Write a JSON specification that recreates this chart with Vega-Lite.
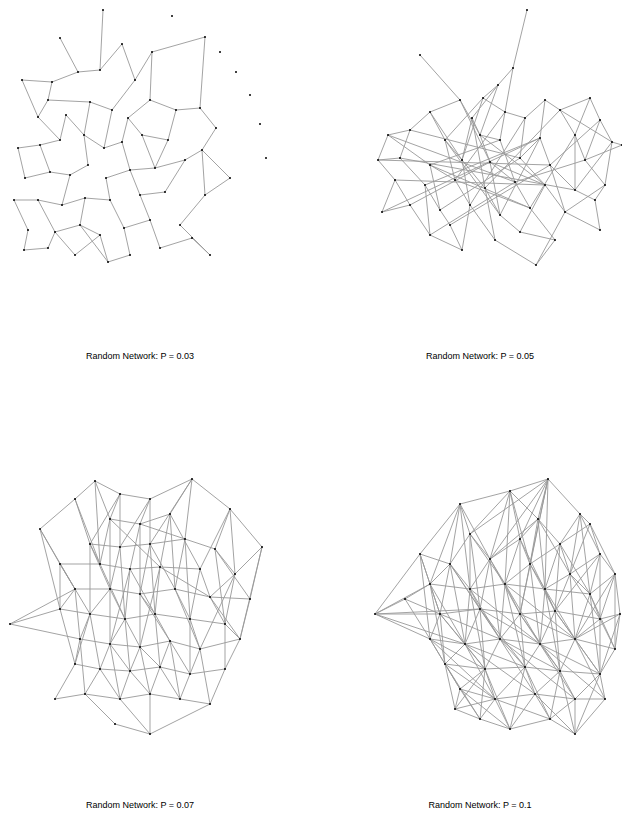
{
  "$schema": "https://vega.github.io/schema/vega-lite/v6.json",
  "padding": 0,
  "columns": 2,
  "spacing": {"column": 60, "row": 88},
  "config": {
    "view": {"stroke": null},
    "title": {"orient": "bottom", "fontSize": 9, "fontWeight": "normal", "font": "Liberation Sans", "offset": 22, "color": "#000"}
  },
  "datasets": {
    "nodes": [
      {"g":1,"id":100,"x":103,"y":10},{"g":1,"id":101,"x":172,"y":16},{"g":1,"id":102,"x":60,"y":38},{"g":1,"id":103,"x":122,"y":44},{"g":1,"id":104,"x":205,"y":37},{"g":1,"id":105,"x":22,"y":80},{"g":1,"id":106,"x":52,"y":82},{"g":1,"id":107,"x":78,"y":72},{"g":1,"id":108,"x":100,"y":70},{"g":1,"id":109,"x":135,"y":80},{"g":1,"id":110,"x":152,"y":52},{"g":1,"id":111,"x":220,"y":52},{"g":1,"id":112,"x":236,"y":72},{"g":1,"id":113,"x":250,"y":95},{"g":1,"id":114,"x":48,"y":100},{"g":1,"id":115,"x":38,"y":117},{"g":1,"id":116,"x":66,"y":115},{"g":1,"id":117,"x":90,"y":102},{"g":1,"id":118,"x":112,"y":110},{"g":1,"id":119,"x":128,"y":118},{"g":1,"id":120,"x":150,"y":100},{"g":1,"id":121,"x":176,"y":110},{"g":1,"id":122,"x":200,"y":108},{"g":1,"id":123,"x":260,"y":124},{"g":1,"id":124,"x":18,"y":148},{"g":1,"id":125,"x":40,"y":145},{"g":1,"id":126,"x":60,"y":140},{"g":1,"id":127,"x":84,"y":135},{"g":1,"id":128,"x":104,"y":148},{"g":1,"id":129,"x":122,"y":142},{"g":1,"id":130,"x":142,"y":135},{"g":1,"id":131,"x":168,"y":140},{"g":1,"id":132,"x":216,"y":128},{"g":1,"id":133,"x":202,"y":150},{"g":1,"id":134,"x":266,"y":158},{"g":1,"id":135,"x":25,"y":178},{"g":1,"id":136,"x":50,"y":172},{"g":1,"id":137,"x":70,"y":175},{"g":1,"id":138,"x":88,"y":165},{"g":1,"id":139,"x":106,"y":178},{"g":1,"id":140,"x":130,"y":170},{"g":1,"id":141,"x":155,"y":168},{"g":1,"id":142,"x":185,"y":160},{"g":1,"id":143,"x":230,"y":178},{"g":1,"id":144,"x":14,"y":200},{"g":1,"id":145,"x":38,"y":200},{"g":1,"id":146,"x":62,"y":205},{"g":1,"id":147,"x":85,"y":198},{"g":1,"id":148,"x":110,"y":200},{"g":1,"id":149,"x":140,"y":195},{"g":1,"id":150,"x":165,"y":192},{"g":1,"id":151,"x":205,"y":195},{"g":1,"id":152,"x":28,"y":230},{"g":1,"id":153,"x":55,"y":232},{"g":1,"id":154,"x":80,"y":225},{"g":1,"id":155,"x":100,"y":235},{"g":1,"id":156,"x":124,"y":228},{"g":1,"id":157,"x":150,"y":220},{"g":1,"id":158,"x":180,"y":225},{"g":1,"id":159,"x":24,"y":250},{"g":1,"id":160,"x":48,"y":248},{"g":1,"id":161,"x":75,"y":255},{"g":1,"id":162,"x":108,"y":262},{"g":1,"id":163,"x":130,"y":255},{"g":1,"id":164,"x":160,"y":248},{"g":1,"id":165,"x":210,"y":255},{"g":1,"id":166,"x":192,"y":238},
      {"g":2,"id":200,"x":527,"y":10},{"g":2,"id":201,"x":420,"y":55},{"g":2,"id":202,"x":513,"y":68},{"g":2,"id":203,"x":498,"y":85},{"g":2,"id":204,"x":460,"y":100},{"g":2,"id":205,"x":483,"y":98},{"g":2,"id":206,"x":545,"y":100},{"g":2,"id":207,"x":590,"y":98},{"g":2,"id":208,"x":430,"y":112},{"g":2,"id":209,"x":472,"y":118},{"g":2,"id":210,"x":505,"y":112},{"g":2,"id":211,"x":525,"y":118},{"g":2,"id":212,"x":560,"y":110},{"g":2,"id":213,"x":600,"y":120},{"g":2,"id":214,"x":388,"y":135},{"g":2,"id":215,"x":410,"y":130},{"g":2,"id":216,"x":445,"y":140},{"g":2,"id":217,"x":480,"y":135},{"g":2,"id":218,"x":500,"y":140},{"g":2,"id":219,"x":540,"y":138},{"g":2,"id":220,"x":575,"y":135},{"g":2,"id":221,"x":612,"y":142},{"g":2,"id":222,"x":378,"y":160},{"g":2,"id":223,"x":400,"y":158},{"g":2,"id":224,"x":430,"y":165},{"g":2,"id":225,"x":462,"y":160},{"g":2,"id":226,"x":490,"y":162},{"g":2,"id":227,"x":520,"y":158},{"g":2,"id":228,"x":550,"y":165},{"g":2,"id":229,"x":585,"y":160},{"g":2,"id":230,"x":395,"y":180},{"g":2,"id":231,"x":425,"y":185},{"g":2,"id":232,"x":455,"y":180},{"g":2,"id":233,"x":485,"y":188},{"g":2,"id":234,"x":515,"y":182},{"g":2,"id":235,"x":545,"y":185},{"g":2,"id":236,"x":575,"y":190},{"g":2,"id":237,"x":605,"y":185},{"g":2,"id":238,"x":382,"y":212},{"g":2,"id":239,"x":410,"y":205},{"g":2,"id":240,"x":440,"y":210},{"g":2,"id":241,"x":470,"y":205},{"g":2,"id":242,"x":500,"y":215},{"g":2,"id":243,"x":530,"y":208},{"g":2,"id":244,"x":565,"y":212},{"g":2,"id":245,"x":595,"y":200},{"g":2,"id":246,"x":430,"y":235},{"g":2,"id":247,"x":462,"y":250},{"g":2,"id":248,"x":495,"y":240},{"g":2,"id":249,"x":520,"y":232},{"g":2,"id":250,"x":536,"y":265},{"g":2,"id":251,"x":555,"y":240},{"g":2,"id":252,"x":600,"y":230},{"g":2,"id":253,"x":622,"y":145},{"g":2,"id":254,"x":450,"y":225},
      {"g":3,"id":300,"x":95,"y":482},{"g":3,"id":301,"x":192,"y":480},{"g":3,"id":302,"x":150,"y":500},{"g":3,"id":303,"x":120,"y":495},{"g":3,"id":304,"x":75,"y":500},{"g":3,"id":305,"x":40,"y":530},{"g":3,"id":306,"x":110,"y":520},{"g":3,"id":307,"x":140,"y":525},{"g":3,"id":308,"x":170,"y":515},{"g":3,"id":309,"x":230,"y":510},{"g":3,"id":310,"x":90,"y":545},{"g":3,"id":311,"x":120,"y":548},{"g":3,"id":312,"x":150,"y":545},{"g":3,"id":313,"x":185,"y":540},{"g":3,"id":314,"x":215,"y":550},{"g":3,"id":315,"x":262,"y":548},{"g":3,"id":316,"x":60,"y":565},{"g":3,"id":317,"x":100,"y":565},{"g":3,"id":318,"x":130,"y":570},{"g":3,"id":319,"x":160,"y":568},{"g":3,"id":320,"x":200,"y":570},{"g":3,"id":321,"x":235,"y":575},{"g":3,"id":322,"x":75,"y":590},{"g":3,"id":323,"x":110,"y":590},{"g":3,"id":324,"x":140,"y":595},{"g":3,"id":325,"x":175,"y":590},{"g":3,"id":326,"x":210,"y":598},{"g":3,"id":327,"x":250,"y":600},{"g":3,"id":328,"x":10,"y":625},{"g":3,"id":329,"x":60,"y":610},{"g":3,"id":330,"x":90,"y":615},{"g":3,"id":331,"x":125,"y":620},{"g":3,"id":332,"x":155,"y":615},{"g":3,"id":333,"x":190,"y":620},{"g":3,"id":334,"x":225,"y":625},{"g":3,"id":335,"x":80,"y":640},{"g":3,"id":336,"x":110,"y":645},{"g":3,"id":337,"x":140,"y":648},{"g":3,"id":338,"x":170,"y":642},{"g":3,"id":339,"x":200,"y":650},{"g":3,"id":340,"x":240,"y":640},{"g":3,"id":341,"x":75,"y":665},{"g":3,"id":342,"x":100,"y":670},{"g":3,"id":343,"x":130,"y":672},{"g":3,"id":344,"x":160,"y":668},{"g":3,"id":345,"x":190,"y":675},{"g":3,"id":346,"x":225,"y":670},{"g":3,"id":347,"x":85,"y":695},{"g":3,"id":348,"x":120,"y":700},{"g":3,"id":349,"x":150,"y":695},{"g":3,"id":350,"x":180,"y":700},{"g":3,"id":351,"x":210,"y":705},{"g":3,"id":352,"x":115,"y":725},{"g":3,"id":353,"x":150,"y":735},{"g":3,"id":354,"x":55,"y":700},
      {"g":4,"id":400,"x":548,"y":480},{"g":4,"id":401,"x":510,"y":492},{"g":4,"id":402,"x":460,"y":505},{"g":4,"id":403,"x":580,"y":515},{"g":4,"id":404,"x":538,"y":520},{"g":4,"id":405,"x":420,"y":555},{"g":4,"id":406,"x":470,"y":535},{"g":4,"id":407,"x":520,"y":540},{"g":4,"id":408,"x":560,"y":545},{"g":4,"id":409,"x":600,"y":555},{"g":4,"id":410,"x":450,"y":565},{"g":4,"id":411,"x":490,"y":560},{"g":4,"id":412,"x":530,"y":565},{"g":4,"id":413,"x":570,"y":575},{"g":4,"id":414,"x":615,"y":575},{"g":4,"id":415,"x":375,"y":615},{"g":4,"id":416,"x":430,"y":585},{"g":4,"id":417,"x":470,"y":590},{"g":4,"id":418,"x":505,"y":585},{"g":4,"id":419,"x":545,"y":590},{"g":4,"id":420,"x":590,"y":595},{"g":4,"id":421,"x":620,"y":615},{"g":4,"id":422,"x":440,"y":615},{"g":4,"id":423,"x":480,"y":610},{"g":4,"id":424,"x":520,"y":615},{"g":4,"id":425,"x":555,"y":612},{"g":4,"id":426,"x":600,"y":620},{"g":4,"id":427,"x":430,"y":640},{"g":4,"id":428,"x":465,"y":645},{"g":4,"id":429,"x":500,"y":640},{"g":4,"id":430,"x":540,"y":645},{"g":4,"id":431,"x":575,"y":640},{"g":4,"id":432,"x":615,"y":650},{"g":4,"id":433,"x":445,"y":665},{"g":4,"id":434,"x":485,"y":670},{"g":4,"id":435,"x":525,"y":668},{"g":4,"id":436,"x":560,"y":672},{"g":4,"id":437,"x":600,"y":675},{"g":4,"id":438,"x":460,"y":690},{"g":4,"id":439,"x":495,"y":700},{"g":4,"id":440,"x":535,"y":695},{"g":4,"id":441,"x":575,"y":700},{"g":4,"id":442,"x":605,"y":700},{"g":4,"id":443,"x":480,"y":720},{"g":4,"id":444,"x":510,"y":730},{"g":4,"id":445,"x":550,"y":720},{"g":4,"id":446,"x":575,"y":735},{"g":4,"id":447,"x":455,"y":710},{"g":4,"id":448,"x":590,"y":525},{"g":4,"id":449,"x":405,"y":600}
    ],
    "edges": [
      {"g":1,"a":0,"b":8},{"g":1,"a":8,"b":7},{"g":1,"a":7,"b":6},{"g":1,"a":3,"b":9},{"g":1,"a":3,"b":8},{"g":1,"a":9,"b":10},{"g":1,"a":10,"b":20},{"g":1,"a":9,"b":18},{"g":1,"a":18,"b":17},{"g":1,"a":17,"b":14},{"g":1,"a":14,"b":15},{"g":1,"a":15,"b":5},{"g":1,"a":5,"b":6},{"g":1,"a":16,"b":26},{"g":1,"a":26,"b":25},{"g":1,"a":25,"b":24},{"g":1,"a":24,"b":35},{"g":1,"a":35,"b":36},{"g":1,"a":36,"b":37},{"g":1,"a":37,"b":38},{"g":1,"a":38,"b":27},{"g":1,"a":27,"b":28},{"g":1,"a":28,"b":29},{"g":1,"a":29,"b":19},{"g":1,"a":19,"b":20},{"g":1,"a":20,"b":21},{"g":1,"a":21,"b":22},{"g":1,"a":22,"b":32},{"g":1,"a":32,"b":33},{"g":1,"a":33,"b":42},{"g":1,"a":42,"b":41},{"g":1,"a":41,"b":40},{"g":1,"a":40,"b":39},{"g":1,"a":39,"b":48},{"g":1,"a":48,"b":47},{"g":1,"a":47,"b":46},{"g":1,"a":46,"b":45},{"g":1,"a":45,"b":44},{"g":1,"a":44,"b":52},{"g":1,"a":52,"b":59},{"g":1,"a":59,"b":60},{"g":1,"a":60,"b":53},{"g":1,"a":53,"b":54},{"g":1,"a":54,"b":55},{"g":1,"a":55,"b":62},{"g":1,"a":62,"b":63},{"g":1,"a":63,"b":56},{"g":1,"a":56,"b":57},{"g":1,"a":57,"b":64},{"g":1,"a":64,"b":66},{"g":1,"a":66,"b":65},{"g":1,"a":65,"b":58},{"g":1,"a":58,"b":51},{"g":1,"a":51,"b":43},{"g":1,"a":43,"b":33},{"g":1,"a":50,"b":49},{"g":1,"a":49,"b":57},{"g":1,"a":50,"b":42},{"g":1,"a":31,"b":30},{"g":1,"a":30,"b":19},{"g":1,"a":31,"b":41},{"g":1,"a":4,"b":22},{"g":1,"a":4,"b":10},{"g":1,"a":18,"b":28},{"g":1,"a":27,"b":16},{"g":1,"a":37,"b":46},{"g":1,"a":36,"b":25},{"g":1,"a":54,"b":47},{"g":1,"a":48,"b":56},{"g":1,"a":40,"b":49},{"g":1,"a":29,"b":40},{"g":1,"a":61,"b":53},{"g":1,"a":61,"b":55},{"g":1,"a":21,"b":31},{"g":1,"a":2,"b":7},{"g":1,"a":6,"b":14},{"g":1,"a":17,"b":27},{"g":1,"a":33,"b":51},{"g":1,"a":45,"b":53},{"g":1,"a":30,"b":41},{"g":1,"a":15,"b":26},{"g":1,"a":62,"b":54},
      {"g":2,"a":0,"b":2},{"g":2,"a":1,"b":4},{"g":2,"a":2,"b":3},{"g":2,"a":2,"b":10},{"g":2,"a":3,"b":5},{"g":2,"a":3,"b":9},{"g":2,"a":4,"b":8},{"g":2,"a":4,"b":17},{"g":2,"a":5,"b":10},{"g":2,"a":5,"b":16},{"g":2,"a":6,"b":11},{"g":2,"a":6,"b":12},{"g":2,"a":6,"b":19},{"g":2,"a":7,"b":12},{"g":2,"a":7,"b":20},{"g":2,"a":7,"b":13},{"g":2,"a":8,"b":15},{"g":2,"a":8,"b":16},{"g":2,"a":9,"b":17},{"g":2,"a":9,"b":25},{"g":2,"a":10,"b":18},{"g":2,"a":10,"b":11},{"g":2,"a":11,"b":27},{"g":2,"a":12,"b":20},{"g":2,"a":13,"b":21},{"g":2,"a":13,"b":29},{"g":2,"a":14,"b":15},{"g":2,"a":14,"b":22},{"g":2,"a":14,"b":24},{"g":2,"a":15,"b":23},{"g":2,"a":16,"b":25},{"g":2,"a":16,"b":32},{"g":2,"a":17,"b":26},{"g":2,"a":17,"b":18},{"g":2,"a":18,"b":34},{"g":2,"a":19,"b":27},{"g":2,"a":19,"b":28},{"g":2,"a":20,"b":29},{"g":2,"a":20,"b":36},{"g":2,"a":21,"b":53},{"g":2,"a":21,"b":37},{"g":2,"a":22,"b":30},{"g":2,"a":22,"b":23},{"g":2,"a":23,"b":31},{"g":2,"a":24,"b":32},{"g":2,"a":24,"b":40},{"g":2,"a":25,"b":33},{"g":2,"a":26,"b":34},{"g":2,"a":26,"b":42},{"g":2,"a":27,"b":35},{"g":2,"a":28,"b":36},{"g":2,"a":28,"b":44},{"g":2,"a":29,"b":37},{"g":2,"a":30,"b":38},{"g":2,"a":30,"b":39},{"g":2,"a":31,"b":40},{"g":2,"a":31,"b":46},{"g":2,"a":32,"b":41},{"g":2,"a":33,"b":42},{"g":2,"a":33,"b":48},{"g":2,"a":34,"b":43},{"g":2,"a":35,"b":44},{"g":2,"a":35,"b":49},{"g":2,"a":36,"b":45},{"g":2,"a":37,"b":45},{"g":2,"a":38,"b":39},{"g":2,"a":39,"b":46},{"g":2,"a":40,"b":54},{"g":2,"a":41,"b":47},{"g":2,"a":41,"b":48},{"g":2,"a":42,"b":49},{"g":2,"a":43,"b":51},{"g":2,"a":44,"b":52},{"g":2,"a":45,"b":52},{"g":2,"a":46,"b":47},{"g":2,"a":47,"b":54},{"g":2,"a":48,"b":50},{"g":2,"a":49,"b":51},{"g":2,"a":50,"b":51},{"g":2,"a":14,"b":34},{"g":2,"a":22,"b":28},{"g":2,"a":15,"b":27},{"g":2,"a":23,"b":36},{"g":2,"a":24,"b":43},{"g":2,"a":30,"b":35},{"g":2,"a":38,"b":19},{"g":2,"a":39,"b":26},{"g":2,"a":8,"b":25},{"g":2,"a":16,"b":42},{"g":2,"a":9,"b":33},{"g":2,"a":10,"b":32},{"g":2,"a":11,"b":41},{"g":2,"a":12,"b":33},{"g":2,"a":19,"b":42},{"g":2,"a":20,"b":43},{"g":2,"a":29,"b":34},{"g":2,"a":13,"b":28},{"g":2,"a":21,"b":36},{"g":2,"a":53,"b":29},{"g":2,"a":37,"b":44},{"g":2,"a":31,"b":19},{"g":2,"a":40,"b":27},{"g":2,"a":46,"b":34},{"g":2,"a":54,"b":28},{"g":2,"a":4,"b":26},{"g":2,"a":5,"b":25},{"g":2,"a":17,"b":35},{"g":2,"a":18,"b":24},{"g":2,"a":26,"b":35},{"g":2,"a":32,"b":43},{"g":2,"a":25,"b":41},{"g":2,"a":3,"b":17},{"g":2,"a":12,"b":21},{"g":2,"a":44,"b":50},
      {"g":3,"a":0,"b":3},{"g":3,"a":0,"b":4},{"g":3,"a":0,"b":6},{"g":3,"a":1,"b":2},{"g":3,"a":1,"b":8},{"g":3,"a":1,"b":9},{"g":3,"a":1,"b":13},{"g":3,"a":2,"b":3},{"g":3,"a":2,"b":7},{"g":3,"a":2,"b":12},{"g":3,"a":3,"b":6},{"g":3,"a":3,"b":11},{"g":3,"a":4,"b":5},{"g":3,"a":4,"b":10},{"g":3,"a":5,"b":16},{"g":3,"a":5,"b":29},{"g":3,"a":6,"b":7},{"g":3,"a":6,"b":17},{"g":3,"a":7,"b":8},{"g":3,"a":7,"b":18},{"g":3,"a":8,"b":19},{"g":3,"a":8,"b":20},{"g":3,"a":9,"b":14},{"g":3,"a":9,"b":15},{"g":3,"a":9,"b":20},{"g":3,"a":10,"b":11},{"g":3,"a":10,"b":17},{"g":3,"a":11,"b":12},{"g":3,"a":11,"b":23},{"g":3,"a":12,"b":13},{"g":3,"a":12,"b":24},{"g":3,"a":13,"b":14},{"g":3,"a":13,"b":25},{"g":3,"a":14,"b":21},{"g":3,"a":15,"b":21},{"g":3,"a":15,"b":27},{"g":3,"a":16,"b":17},{"g":3,"a":16,"b":22},{"g":3,"a":17,"b":18},{"g":3,"a":18,"b":19},{"g":3,"a":18,"b":31},{"g":3,"a":19,"b":20},{"g":3,"a":19,"b":32},{"g":3,"a":20,"b":26},{"g":3,"a":21,"b":26},{"g":3,"a":21,"b":34},{"g":3,"a":22,"b":23},{"g":3,"a":22,"b":29},{"g":3,"a":23,"b":24},{"g":3,"a":23,"b":30},{"g":3,"a":24,"b":25},{"g":3,"a":24,"b":37},{"g":3,"a":25,"b":26},{"g":3,"a":25,"b":33},{"g":3,"a":26,"b":27},{"g":3,"a":26,"b":34},{"g":3,"a":27,"b":40},{"g":3,"a":28,"b":29},{"g":3,"a":28,"b":35},{"g":3,"a":29,"b":30},{"g":3,"a":30,"b":31},{"g":3,"a":30,"b":35},{"g":3,"a":31,"b":32},{"g":3,"a":31,"b":36},{"g":3,"a":32,"b":33},{"g":3,"a":32,"b":38},{"g":3,"a":33,"b":34},{"g":3,"a":33,"b":39},{"g":3,"a":34,"b":40},{"g":3,"a":35,"b":36},{"g":3,"a":35,"b":41},{"g":3,"a":36,"b":37},{"g":3,"a":36,"b":42},{"g":3,"a":37,"b":38},{"g":3,"a":37,"b":43},{"g":3,"a":38,"b":39},{"g":3,"a":38,"b":44},{"g":3,"a":39,"b":40},{"g":3,"a":39,"b":45},{"g":3,"a":40,"b":46},{"g":3,"a":41,"b":42},{"g":3,"a":41,"b":54},{"g":3,"a":42,"b":43},{"g":3,"a":42,"b":47},{"g":3,"a":43,"b":44},{"g":3,"a":43,"b":48},{"g":3,"a":44,"b":45},{"g":3,"a":44,"b":49},{"g":3,"a":45,"b":46},{"g":3,"a":45,"b":50},{"g":3,"a":46,"b":51},{"g":3,"a":47,"b":48},{"g":3,"a":47,"b":52},{"g":3,"a":48,"b":49},{"g":3,"a":48,"b":53},{"g":3,"a":49,"b":50},{"g":3,"a":49,"b":53},{"g":3,"a":50,"b":51},{"g":3,"a":51,"b":53},{"g":3,"a":52,"b":53},{"g":3,"a":54,"b":47},{"g":3,"a":4,"b":17},{"g":3,"a":5,"b":22},{"g":3,"a":10,"b":30},{"g":3,"a":11,"b":31},{"g":3,"a":12,"b":32},{"g":3,"a":13,"b":33},{"g":3,"a":14,"b":34},{"g":3,"a":6,"b":23},{"g":3,"a":7,"b":24},{"g":3,"a":8,"b":25},{"g":3,"a":16,"b":30},{"g":3,"a":17,"b":31},{"g":3,"a":18,"b":36},{"g":3,"a":19,"b":37},{"g":3,"a":20,"b":33},{"g":3,"a":21,"b":39},{"g":3,"a":22,"b":35},{"g":3,"a":23,"b":36},{"g":3,"a":24,"b":38},{"g":3,"a":25,"b":39},{"g":3,"a":26,"b":40},{"g":3,"a":29,"b":41},{"g":3,"a":30,"b":42},{"g":3,"a":31,"b":43},{"g":3,"a":32,"b":44},{"g":3,"a":33,"b":45},{"g":3,"a":34,"b":46},{"g":3,"a":35,"b":47},{"g":3,"a":36,"b":48},{"g":3,"a":37,"b":49},{"g":3,"a":38,"b":50},{"g":3,"a":39,"b":51},{"g":3,"a":2,"b":11},{"g":3,"a":3,"b":10},{"g":3,"a":0,"b":17},{"g":3,"a":1,"b":12},{"g":3,"a":9,"b":21},{"g":3,"a":15,"b":40},{"g":3,"a":28,"b":22},{"g":3,"a":6,"b":19},{"g":3,"a":7,"b":13},{"g":3,"a":10,"b":23},{"g":3,"a":12,"b":25},{"g":3,"a":14,"b":27},{"g":3,"a":18,"b":32},{"g":3,"a":19,"b":26},{"g":3,"a":23,"b":31},{"g":3,"a":24,"b":32},{"g":3,"a":31,"b":37},{"g":3,"a":36,"b":43},{"g":3,"a":43,"b":49},{"g":3,"a":42,"b":48},{"g":3,"a":44,"b":50},{"g":3,"a":30,"b":41},{"g":3,"a":37,"b":44},{"g":3,"a":38,"b":45},{"g":3,"a":16,"b":29},
      {"g":4,"a":0,"b":1},{"g":4,"a":0,"b":4},{"g":4,"a":0,"b":3},{"g":4,"a":0,"b":7},{"g":4,"a":0,"b":12},{"g":4,"a":1,"b":2},{"g":4,"a":1,"b":6},{"g":4,"a":1,"b":7},{"g":4,"a":1,"b":11},{"g":4,"a":2,"b":5},{"g":4,"a":2,"b":6},{"g":4,"a":2,"b":10},{"g":4,"a":3,"b":48},{"g":4,"a":3,"b":8},{"g":4,"a":3,"b":9},{"g":4,"a":4,"b":7},{"g":4,"a":4,"b":8},{"g":4,"a":4,"b":12},{"g":4,"a":5,"b":10},{"g":4,"a":5,"b":16},{"g":4,"a":5,"b":15},{"g":4,"a":6,"b":10},{"g":4,"a":6,"b":11},{"g":4,"a":6,"b":17},{"g":4,"a":7,"b":11},{"g":4,"a":7,"b":12},{"g":4,"a":7,"b":18},{"g":4,"a":8,"b":12},{"g":4,"a":8,"b":13},{"g":4,"a":8,"b":19},{"g":4,"a":9,"b":13},{"g":4,"a":9,"b":14},{"g":4,"a":9,"b":20},{"g":4,"a":10,"b":16},{"g":4,"a":10,"b":17},{"g":4,"a":10,"b":22},{"g":4,"a":11,"b":17},{"g":4,"a":11,"b":18},{"g":4,"a":11,"b":23},{"g":4,"a":12,"b":18},{"g":4,"a":12,"b":19},{"g":4,"a":12,"b":24},{"g":4,"a":13,"b":19},{"g":4,"a":13,"b":20},{"g":4,"a":13,"b":25},{"g":4,"a":14,"b":20},{"g":4,"a":14,"b":21},{"g":4,"a":14,"b":26},{"g":4,"a":15,"b":16},{"g":4,"a":15,"b":22},{"g":4,"a":15,"b":49},{"g":4,"a":15,"b":27},{"g":4,"a":16,"b":17},{"g":4,"a":16,"b":22},{"g":4,"a":16,"b":49},{"g":4,"a":17,"b":18},{"g":4,"a":17,"b":23},{"g":4,"a":17,"b":28},{"g":4,"a":18,"b":19},{"g":4,"a":18,"b":24},{"g":4,"a":18,"b":29},{"g":4,"a":19,"b":20},{"g":4,"a":19,"b":25},{"g":4,"a":19,"b":30},{"g":4,"a":20,"b":26},{"g":4,"a":20,"b":31},{"g":4,"a":21,"b":26},{"g":4,"a":21,"b":32},{"g":4,"a":22,"b":23},{"g":4,"a":22,"b":27},{"g":4,"a":22,"b":28},{"g":4,"a":23,"b":24},{"g":4,"a":23,"b":28},{"g":4,"a":23,"b":29},{"g":4,"a":24,"b":25},{"g":4,"a":24,"b":29},{"g":4,"a":24,"b":30},{"g":4,"a":25,"b":26},{"g":4,"a":25,"b":30},{"g":4,"a":25,"b":31},{"g":4,"a":26,"b":31},{"g":4,"a":26,"b":32},{"g":4,"a":27,"b":28},{"g":4,"a":27,"b":33},{"g":4,"a":28,"b":29},{"g":4,"a":28,"b":33},{"g":4,"a":28,"b":34},{"g":4,"a":29,"b":30},{"g":4,"a":29,"b":34},{"g":4,"a":29,"b":35},{"g":4,"a":30,"b":31},{"g":4,"a":30,"b":35},{"g":4,"a":30,"b":36},{"g":4,"a":31,"b":32},{"g":4,"a":31,"b":36},{"g":4,"a":31,"b":37},{"g":4,"a":32,"b":37},{"g":4,"a":33,"b":34},{"g":4,"a":33,"b":38},{"g":4,"a":33,"b":47},{"g":4,"a":34,"b":35},{"g":4,"a":34,"b":38},{"g":4,"a":34,"b":39},{"g":4,"a":35,"b":36},{"g":4,"a":35,"b":39},{"g":4,"a":35,"b":40},{"g":4,"a":36,"b":37},{"g":4,"a":36,"b":40},{"g":4,"a":36,"b":41},{"g":4,"a":37,"b":41},{"g":4,"a":37,"b":42},{"g":4,"a":38,"b":39},{"g":4,"a":38,"b":43},{"g":4,"a":38,"b":47},{"g":4,"a":39,"b":40},{"g":4,"a":39,"b":43},{"g":4,"a":39,"b":44},{"g":4,"a":40,"b":41},{"g":4,"a":40,"b":44},{"g":4,"a":40,"b":45},{"g":4,"a":41,"b":42},{"g":4,"a":41,"b":45},{"g":4,"a":41,"b":46},{"g":4,"a":42,"b":46},{"g":4,"a":43,"b":44},{"g":4,"a":44,"b":45},{"g":4,"a":45,"b":46},{"g":4,"a":47,"b":43},{"g":4,"a":48,"b":9},{"g":4,"a":48,"b":13},{"g":4,"a":49,"b":22},{"g":4,"a":49,"b":27},{"g":4,"a":2,"b":16},{"g":4,"a":2,"b":17},{"g":4,"a":1,"b":18},{"g":4,"a":0,"b":19},{"g":4,"a":0,"b":24},{"g":4,"a":0,"b":11},{"g":4,"a":1,"b":12},{"g":4,"a":3,"b":13},{"g":4,"a":4,"b":19},{"g":4,"a":4,"b":11},{"g":4,"a":6,"b":18},{"g":4,"a":7,"b":24},{"g":4,"a":8,"b":25},{"g":4,"a":9,"b":26},{"g":4,"a":10,"b":23},{"g":4,"a":11,"b":29},{"g":4,"a":12,"b":30},{"g":4,"a":13,"b":31},{"g":4,"a":14,"b":32},{"g":4,"a":16,"b":28},{"g":4,"a":17,"b":29},{"g":4,"a":18,"b":30},{"g":4,"a":19,"b":31},{"g":4,"a":20,"b":32},{"g":4,"a":22,"b":33},{"g":4,"a":23,"b":34},{"g":4,"a":24,"b":35},{"g":4,"a":25,"b":36},{"g":4,"a":26,"b":37},{"g":4,"a":27,"b":38},{"g":4,"a":28,"b":39},{"g":4,"a":29,"b":40},{"g":4,"a":30,"b":41},{"g":4,"a":31,"b":42},{"g":4,"a":33,"b":43},{"g":4,"a":34,"b":44},{"g":4,"a":35,"b":45},{"g":4,"a":36,"b":46},{"g":4,"a":5,"b":22},{"g":4,"a":5,"b":27},{"g":4,"a":15,"b":23},{"g":4,"a":15,"b":28},{"g":4,"a":6,"b":23},{"g":4,"a":7,"b":25},{"g":4,"a":8,"b":20},{"g":4,"a":10,"b":28},{"g":4,"a":11,"b":24},{"g":4,"a":12,"b":25},{"g":4,"a":13,"b":26},{"g":4,"a":16,"b":33},{"g":4,"a":17,"b":34},{"g":4,"a":18,"b":35},{"g":4,"a":19,"b":36},{"g":4,"a":20,"b":37},{"g":4,"a":21,"b":37},{"g":4,"a":22,"b":34},{"g":4,"a":23,"b":35},{"g":4,"a":24,"b":36},{"g":4,"a":25,"b":37},{"g":4,"a":27,"b":39},{"g":4,"a":28,"b":40},{"g":4,"a":29,"b":41},{"g":4,"a":30,"b":42},{"g":4,"a":34,"b":43},{"g":4,"a":35,"b":44},{"g":4,"a":36,"b":45},{"g":4,"a":37,"b":46},{"g":4,"a":38,"b":44},{"g":4,"a":39,"b":45},{"g":4,"a":40,"b":46},{"g":4,"a":47,"b":39},{"g":4,"a":47,"b":34},{"g":4,"a":3,"b":20},{"g":4,"a":48,"b":14},{"g":4,"a":48,"b":8},{"g":4,"a":0,"b":6},{"g":4,"a":1,"b":4},{"g":4,"a":2,"b":11},{"g":4,"a":10,"b":29},{"g":4,"a":17,"b":30},{"g":4,"a":18,"b":31},{"g":4,"a":23,"b":30},{"g":4,"a":24,"b":31},{"g":4,"a":22,"b":29},{"g":4,"a":27,"b":34},{"g":4,"a":33,"b":39},{"g":4,"a":28,"b":35},{"g":4,"a":29,"b":36},{"g":4,"a":30,"b":37},{"g":4,"a":31,"b":21},{"g":4,"a":14,"b":31},{"g":4,"a":9,"b":25},{"g":4,"a":4,"b":13}
    ]
  },
  "concat": [
    {
      "width": 280, "height": 330,
      "title": "Random Network:  P = 0.03",
      "layer": [
        {
          "data": {"name": "edges"},
          "transform": [
            {"filter": "datum.g == 1"},
            {"calculate": "datum.g * 100 + datum.a", "as": "ka"},
            {"calculate": "datum.g * 100 + datum.b", "as": "kb"},
            {"lookup": "ka", "from": {"data": {"name": "nodes"}, "key": "id", "fields": ["x", "y"]}},
            {"lookup": "kb", "from": {"data": {"name": "nodes"}, "key": "id", "fields": ["x", "y"]}, "as": ["x2", "y2"]}
          ],
          "mark": {"type": "rule", "color": "#999999", "strokeWidth": 0.9},
          "encoding": {
            "x": {"field": "x", "type": "quantitative", "scale": {"domain": [0, 280]}, "axis": null},
            "y": {"field": "y", "type": "quantitative", "scale": {"domain": [0, 330], "reverse": true}, "axis": null},
            "x2": {"field": "x2"},
            "y2": {"field": "y2"}
          }
        },
        {
          "data": {"name": "nodes"},
          "transform": [{"filter": "datum.g == 1"}],
          "mark": {"type": "circle", "color": "#000000", "size": 4, "opacity": 1},
          "encoding": {
            "x": {"field": "x", "type": "quantitative", "scale": {"domain": [0, 280]}, "axis": null},
            "y": {"field": "y", "type": "quantitative", "scale": {"domain": [0, 330], "reverse": true}, "axis": null}
          }
        }
      ]
    },
    {
      "width": 280, "height": 330,
      "title": "Random Network:  P = 0.05",
      "layer": [
        {
          "data": {"name": "edges"},
          "transform": [
            {"filter": "datum.g == 2"},
            {"calculate": "datum.g * 100 + datum.a", "as": "ka"},
            {"calculate": "datum.g * 100 + datum.b", "as": "kb"},
            {"lookup": "ka", "from": {"data": {"name": "nodes"}, "key": "id", "fields": ["x", "y"]}},
            {"lookup": "kb", "from": {"data": {"name": "nodes"}, "key": "id", "fields": ["x", "y"]}, "as": ["x2", "y2"]}
          ],
          "mark": {"type": "rule", "color": "#999999", "strokeWidth": 0.9},
          "encoding": {
            "x": {"field": "x", "type": "quantitative", "scale": {"domain": [340, 620]}, "axis": null},
            "y": {"field": "y", "type": "quantitative", "scale": {"domain": [0, 330], "reverse": true}, "axis": null},
            "x2": {"field": "x2"},
            "y2": {"field": "y2"}
          }
        },
        {
          "data": {"name": "nodes"},
          "transform": [{"filter": "datum.g == 2"}],
          "mark": {"type": "circle", "color": "#000000", "size": 4, "opacity": 1},
          "encoding": {
            "x": {"field": "x", "type": "quantitative", "scale": {"domain": [340, 620]}, "axis": null},
            "y": {"field": "y", "type": "quantitative", "scale": {"domain": [0, 330], "reverse": true}, "axis": null}
          }
        }
      ]
    },
    {
      "width": 280, "height": 330,
      "title": "Random Network: P = 0.07",
      "layer": [
        {
          "data": {"name": "edges"},
          "transform": [
            {"filter": "datum.g == 3"},
            {"calculate": "datum.g * 100 + datum.a", "as": "ka"},
            {"calculate": "datum.g * 100 + datum.b", "as": "kb"},
            {"lookup": "ka", "from": {"data": {"name": "nodes"}, "key": "id", "fields": ["x", "y"]}},
            {"lookup": "kb", "from": {"data": {"name": "nodes"}, "key": "id", "fields": ["x", "y"]}, "as": ["x2", "y2"]}
          ],
          "mark": {"type": "rule", "color": "#999999", "strokeWidth": 0.9},
          "encoding": {
            "x": {"field": "x", "type": "quantitative", "scale": {"domain": [0, 280]}, "axis": null},
            "y": {"field": "y", "type": "quantitative", "scale": {"domain": [450, 780], "reverse": true}, "axis": null},
            "x2": {"field": "x2"},
            "y2": {"field": "y2"}
          }
        },
        {
          "data": {"name": "nodes"},
          "transform": [{"filter": "datum.g == 3"}],
          "mark": {"type": "circle", "color": "#000000", "size": 4, "opacity": 1},
          "encoding": {
            "x": {"field": "x", "type": "quantitative", "scale": {"domain": [0, 280]}, "axis": null},
            "y": {"field": "y", "type": "quantitative", "scale": {"domain": [450, 780], "reverse": true}, "axis": null}
          }
        }
      ]
    },
    {
      "width": 280, "height": 330,
      "title": "Random Network: P = 0.1",
      "layer": [
        {
          "data": {"name": "edges"},
          "transform": [
            {"filter": "datum.g == 4"},
            {"calculate": "datum.g * 100 + datum.a", "as": "ka"},
            {"calculate": "datum.g * 100 + datum.b", "as": "kb"},
            {"lookup": "ka", "from": {"data": {"name": "nodes"}, "key": "id", "fields": ["x", "y"]}},
            {"lookup": "kb", "from": {"data": {"name": "nodes"}, "key": "id", "fields": ["x", "y"]}, "as": ["x2", "y2"]}
          ],
          "mark": {"type": "rule", "color": "#999999", "strokeWidth": 0.9},
          "encoding": {
            "x": {"field": "x", "type": "quantitative", "scale": {"domain": [340, 620]}, "axis": null},
            "y": {"field": "y", "type": "quantitative", "scale": {"domain": [450, 780], "reverse": true}, "axis": null},
            "x2": {"field": "x2"},
            "y2": {"field": "y2"}
          }
        },
        {
          "data": {"name": "nodes"},
          "transform": [{"filter": "datum.g == 4"}],
          "mark": {"type": "circle", "color": "#000000", "size": 4, "opacity": 1},
          "encoding": {
            "x": {"field": "x", "type": "quantitative", "scale": {"domain": [340, 620]}, "axis": null},
            "y": {"field": "y", "type": "quantitative", "scale": {"domain": [450, 780], "reverse": true}, "axis": null}
          }
        }
      ]
    }
  ]
}
